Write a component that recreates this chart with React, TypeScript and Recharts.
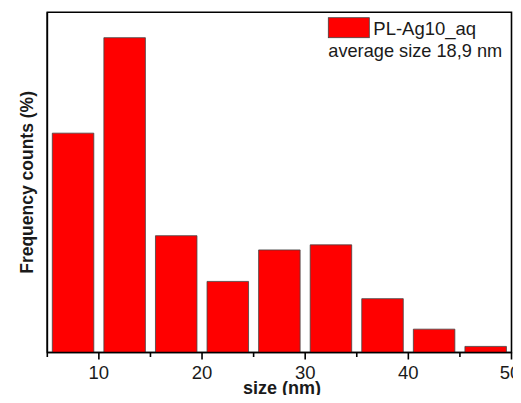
import React from 'react';
import { ComposedChart, Bar, XAxis, YAxis, ReferenceArea, Legend } from 'recharts';

const binCenters = [7.5, 12.5, 17.5, 22.5, 27.5, 32.5, 37.5, 42.5, 47.5];
const frequency = [21.6, 31.0, 11.5, 7.0, 10.1, 10.6, 5.3, 2.3, 0.6];
const xTicks = [5, 10, 15, 20, 25, 30, 35, 40, 45, 50];
const xLabelTicks = [10, 20, 30, 40, 50];
const seriesName = 'PL-Ag10_aq';
const legendNote = 'average size 18,9 nm';
const xTitle = 'size (nm)';
const yTitle = 'Frequency counts (%)';

const data = binCenters.map((x, i) => ({ x, f: frequency[i] }));

const FONT = '"Liberation Sans", Arial, Helvetica, sans-serif';

const XTick = (props: any) => {
  const { x, y, payload } = props;
  const v = payload.value;
  const major = xLabelTicks.includes(v);
  const isLast = v === xTicks[xTicks.length - 1];
  return (
    <g>
      <line x1={x} x2={x} y1={y} y2={y + (major ? 7 : 4.5)} stroke="#000" strokeWidth={1.6} />
      {major && (
        <text x={isLast ? x - 1.5 : x} y={y + 26.5} textAnchor="middle" fontSize={18.5} fontFamily={FONT} fill="#1a1a1a">
          {v}
        </text>
      )}
    </g>
  );
};

const LegendContent = (props: any) => {
  const name = props.payload && props.payload[0] ? props.payload[0].value : seriesName;
  return (
    <svg width={505} height={60} style={{ display: 'block' }}>
      <rect x={320.3} y={9.7} width={41} height={20} fill="#ff0000" stroke="#444" strokeWidth={0.8} />
      <text x={365.3} y={27} fontSize={18.5} fontFamily={FONT} fill="#1a1a1a">{name}</text>
      <text x={320.3} y={48.7} fontSize={18.2} fontFamily={FONT} fill="#1a1a1a">{legendNote}</text>
    </svg>
  );
};

export default function App() {
  return (
    <div style={{ width: 513, height: 395, marginRight: -8, marginBottom: -8 }}>
      <ComposedChart
        width={513}
        height={395}
        data={data}
        margin={{ top: 4.3, right: 9.5, left: 0, bottom: 0 }}
      >
        <XAxis
          dataKey="x"
          type="number"
          domain={[5, 50]}
          ticks={xTicks}
          interval={0}
          allowDataOverflow
          tickLine={false}
          tickSize={0}
          tickMargin={0}
          tick={<XTick />}
          axisLine={{ stroke: '#000', strokeWidth: 1.6 }}
          height={50.5}
          label={{
            content: () => (
              <text x={274} y={386} textAnchor="middle" fontSize={18} fontWeight="bold" fontFamily={FONT} fill="#1a1a1a">
                {xTitle}
              </text>
            ),
          }}
        />
        <YAxis
          type="number"
          domain={[0, 33.5]}
          allowDataOverflow
          tick={false}
          tickLine={false}
          width={39.3}
          axisLine={{ stroke: '#000', strokeWidth: 1.6 }}
          label={{
            content: () => (
              <text
                x={25.5}
                y={174.4}
                transform="rotate(-90 25.5 174.4)"
                textAnchor="middle"
                fontSize={17.5}
                fontWeight="bold"
                fontFamily={FONT}
                fill="#1a1a1a"
              >
                {yTitle}
              </text>
            ),
          }}
        />
        <Bar
          dataKey="f"
          name={seriesName}
          fill="#ff0000"
          stroke="#444"
          strokeWidth={0.8}
          barSize={41.5}
          isAnimationActive={false}
        />
        <ReferenceArea x1={5} x2={50} y1={0} y2={33.5} fill="none" stroke="#000" strokeWidth={1.6} ifOverflow="visible" />
        <Legend
          layout="horizontal"
          verticalAlign="middle"
          align="center"
          content={<LegendContent />}
          wrapperStyle={{ position: 'absolute', top: 0, left: 0, width: 505, height: 60 }}
        />
      </ComposedChart>
    </div>
  );
}
